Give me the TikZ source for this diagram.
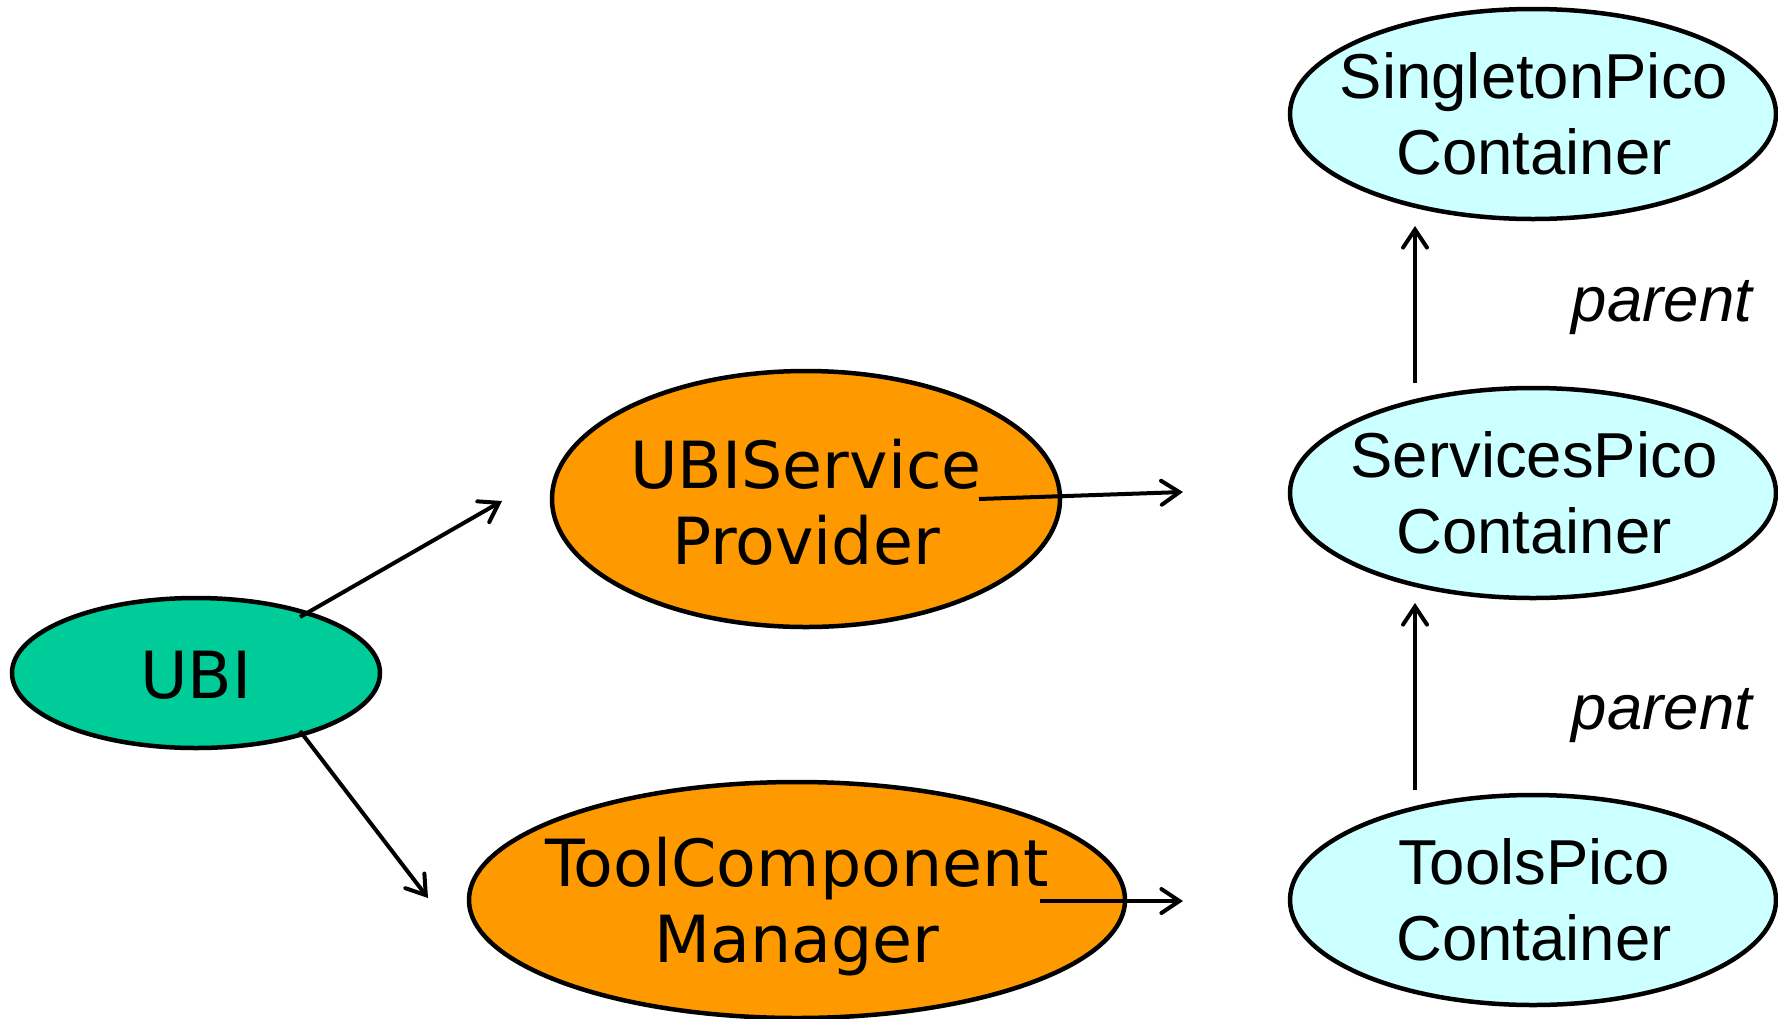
\documentclass[tikz,border=0pt]{standalone}
\usepackage{fontspec}
\setmainfont{Liberation Sans}
\newfontfamily\tahomalike{DejaVu Sans}
\usetikzlibrary{shapes.geometric,arrows.meta}

\definecolor{ubigreen}{RGB}{0,204,153}
\definecolor{mgrorange}{RGB}{255,153,0}
\definecolor{picocyan}{RGB}{204,255,255}

\tikzset{
  blob/.style={ellipse, draw=black, line width=4.5pt, inner sep=0pt},
  leftlabel/.style={font=\tahomalike\fontsize{65}{76}\selectfont, align=center, inner sep=0pt},
  picolabel/.style={font=\fontsize{63.5}{76}\selectfont, align=center, inner sep=0pt},
  parentlabel/.style={font=\itshape\fontsize{63.5}{76}\selectfont, anchor=base, inner sep=0pt},
  link/.style={line width=4pt, -{Straight Barb[length=18pt,width=24pt,line width=4pt,line cap=round]}}
}

\begin{document}
\begin{tikzpicture}[x=1pt,y=-1pt]
\useasboundingbox (0,0) rectangle (1778,1018);

% ellipses
\node[blob, fill=ubigreen, minimum width=368pt, minimum height=150pt] (ubi) at (196,673) {};
\node[blob, fill=mgrorange, minimum width=508pt, minimum height=256pt] (usp) at (806,499) {};
\node[blob, fill=mgrorange, minimum width=656pt, minimum height=236pt] (tcm) at (797,900) {};
\node[blob, fill=picocyan, minimum width=486pt, minimum height=210pt] (spc) at (1533,114) {};
\node[blob, fill=picocyan, minimum width=486pt, minimum height=210pt] (svc) at (1533,493) {};
\node[blob, fill=picocyan, minimum width=486pt, minimum height=210pt] (tpc) at (1533,900) {};

% texts
\node[leftlabel] (ubi-t) at (196,675) {UBI};
\node[leftlabel] (usp-t) at (806,502) {UBIService\\Provider};
\node[leftlabel] (tcm-t) at (797,907) {ToolComponent\\Manager};
\node[picolabel] (spc-t) at (1534,114) {SingletonPico\\Container};
\node[picolabel] (svc-t) at (1534,493) {ServicesPico\\Container};
\node[picolabel] (tpc-t) at (1534,900) {ToolsPico\\Container};
\node[parentlabel] (par1) at (1662,321) {parent};
\node[parentlabel] (par2) at (1662,729) {parent};

% connector end points
\coordinate (ubi-up) at (300,617);
\coordinate (usp-in) at (502,501);
\coordinate (ubi-dn) at (300,731);
\coordinate (tcm-in) at (428,898);
\coordinate (usp-out) at (979,499);
\coordinate (svc-in) at (1183,492);
\coordinate (tcm-out) at (1040,901);
\coordinate (tpc-in) at (1183,901);
\coordinate (tpc-up) at (1415,790);
\coordinate (svc-bot) at (1415,603);
\coordinate (svc-up) at (1415,383);
\coordinate (spc-bot) at (1415,226);

% connectors
\draw[link] (ubi-up) -- (usp-in);
\draw[link] (ubi-dn) -- (tcm-in);
\draw[link] (usp-out) -- (svc-in);
\draw[link] (tcm-out) -- (tpc-in);
\draw[link] (tpc-up) -- (svc-bot);
\draw[link] (svc-up) -- (spc-bot);
\end{tikzpicture}
\end{document}
